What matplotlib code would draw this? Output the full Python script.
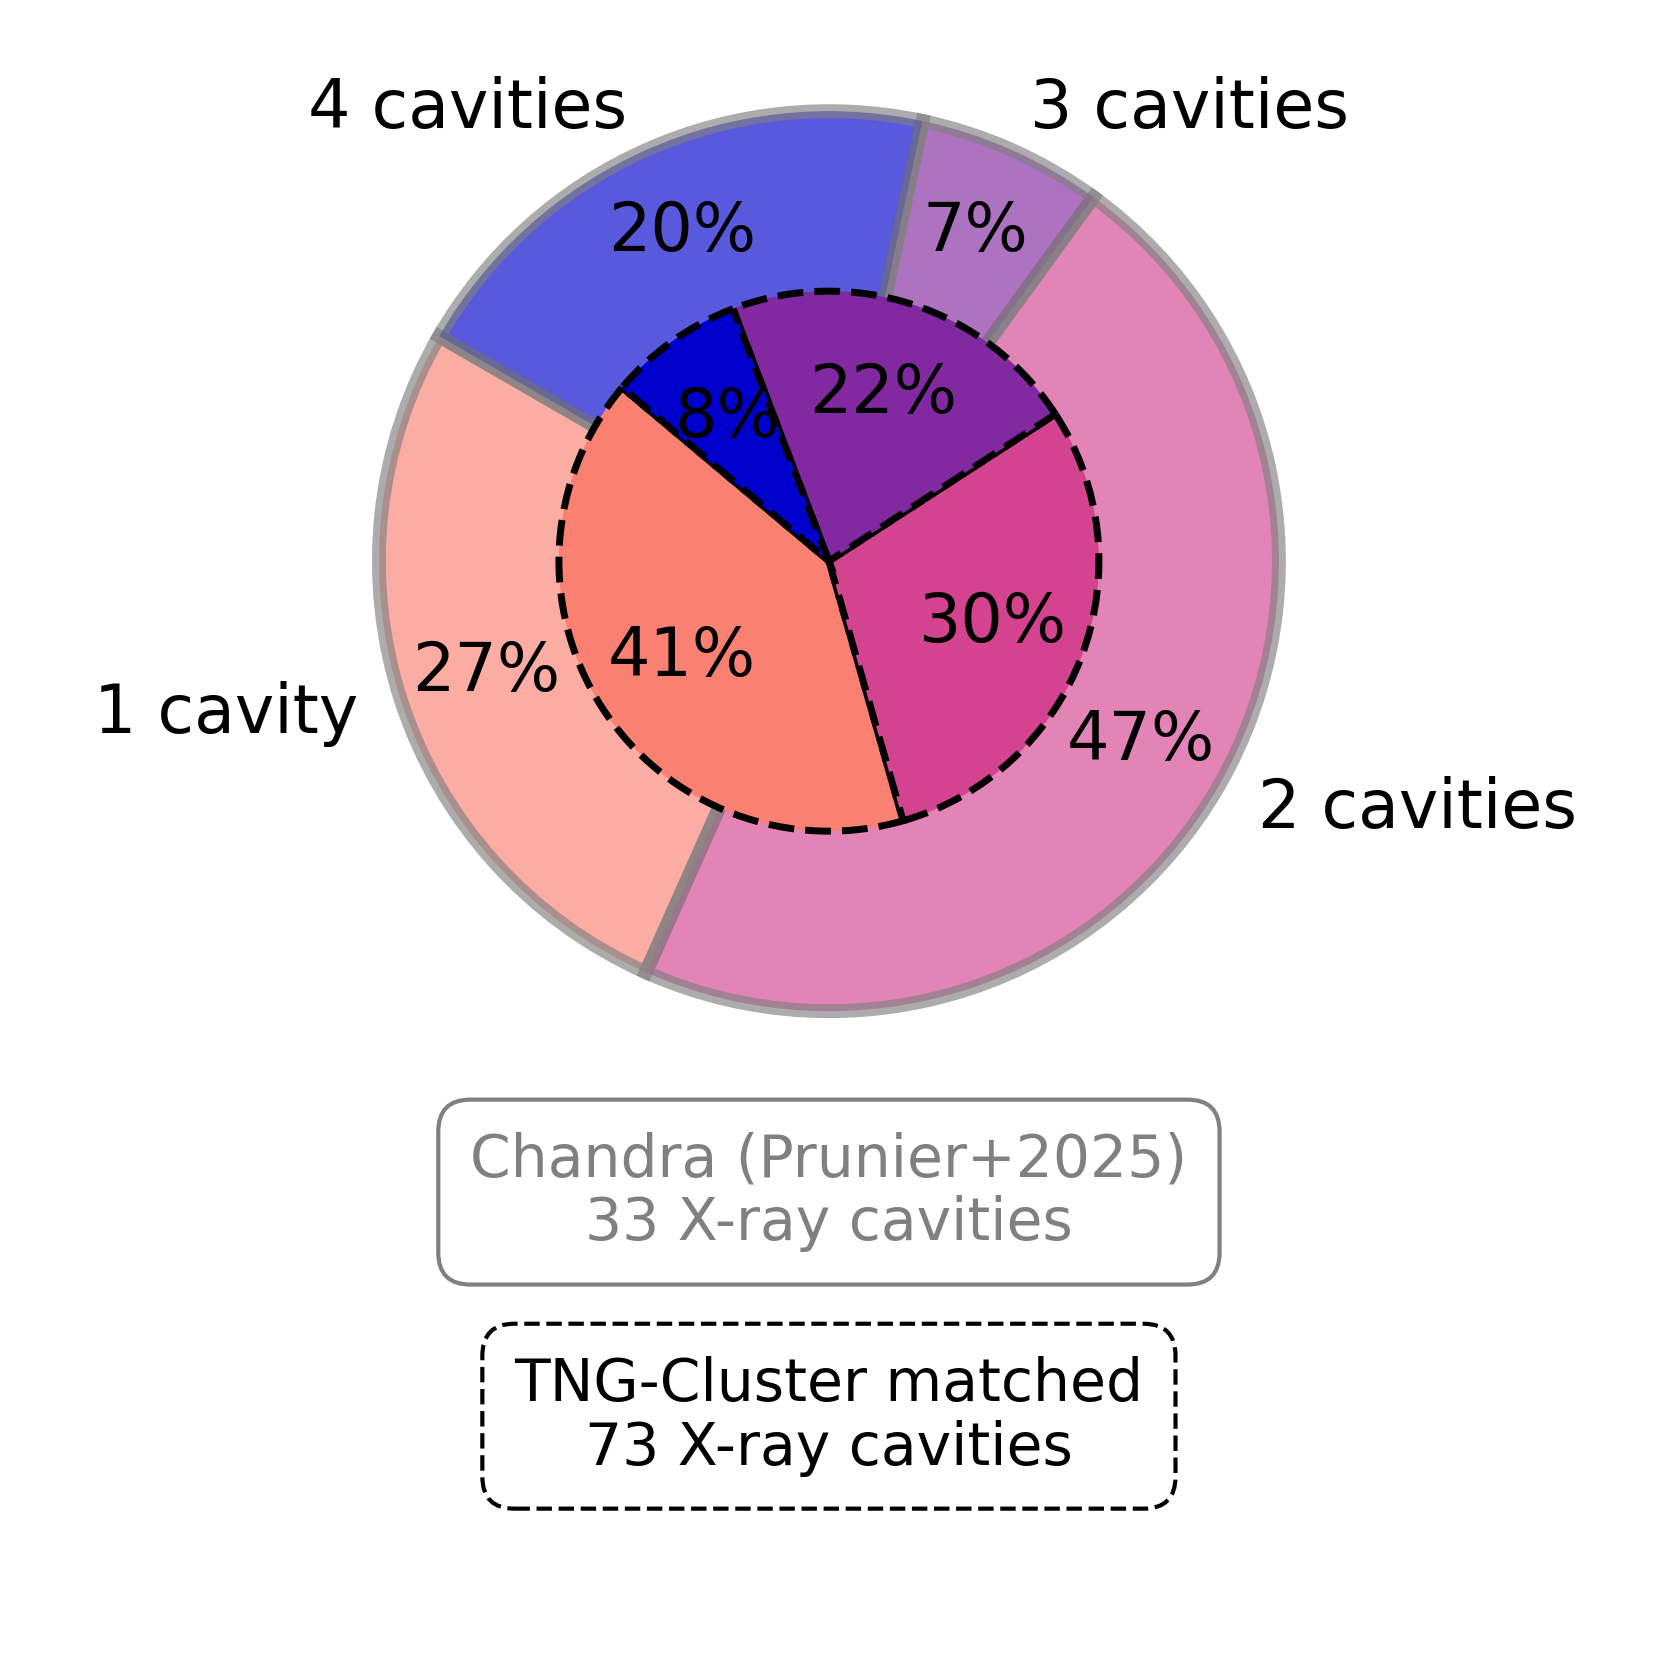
import matplotlib.pyplot as plt

# cluster counts per number of cavities
labels = ['1 cavity', '2 cavities', '3 cavities', '4 cavities']
chandra_counts = [4, 7, 1, 3]      # 33 cavities
tng_counts = [15, 11, 8, 3]        # 73 cavities

inner_colors = ['#FA8072', '#D3438F', '#8228A0', '#0000CD']
outer_colors = inner_colors

chandra_text = 'Chandra (Prunier+2025)\n33 X-ray cavities'
tng_text = 'TNG-Cluster matched\n73 X-ray cavities'

fig = plt.figure(figsize=(8.305, 8.305), dpi=200)
ax = fig.add_axes([0, 0, 1, 1])

# outer: Chandra (full pie, covered in the middle by the TNG pie)
wedges, texts, autotexts = ax.pie(
    chandra_counts, labels=labels, colors=outer_colors, startangle=150,
    autopct='%1.0f%%', pctdistance=0.8, labeldistance=1.1, radius=1.0,
    wedgeprops=dict(edgecolor='gray', linewidth=5, alpha=0.65),
    textprops=dict(fontsize=24))

# inner pie: TNG-Cluster
wedges2, texts2, autotexts2 = ax.pie(
    tng_counts, colors=inner_colors, startangle=140, radius=0.6,
    autopct='%1.0f%%', pctdistance=0.65,
    wedgeprops=dict(edgecolor='black', linewidth=2.5, linestyle='--'),
    textprops=dict(fontsize=24))

ax.set_aspect('equal')
ax.set_xlim(-1.842, 1.849)
ax.set_ylim(-2.444, 1.247)
ax.axis('off')

ax.text(0.0, -1.402, chandra_text, ha='center', va='center', fontsize=21,
        color='gray', linespacing=1.15,
        bbox=dict(boxstyle='round,pad=0.55', facecolor='white',
                  edgecolor='gray', linewidth=1.5))
ax.text(0.0, -1.9, tng_text, ha='center', va='center', fontsize=21,
        color='black', linespacing=1.15,
        bbox=dict(boxstyle='round,pad=0.55', facecolor='white',
                  edgecolor='black', linewidth=1.5, linestyle='--'))

plt.savefig('out.png', dpi=200)
